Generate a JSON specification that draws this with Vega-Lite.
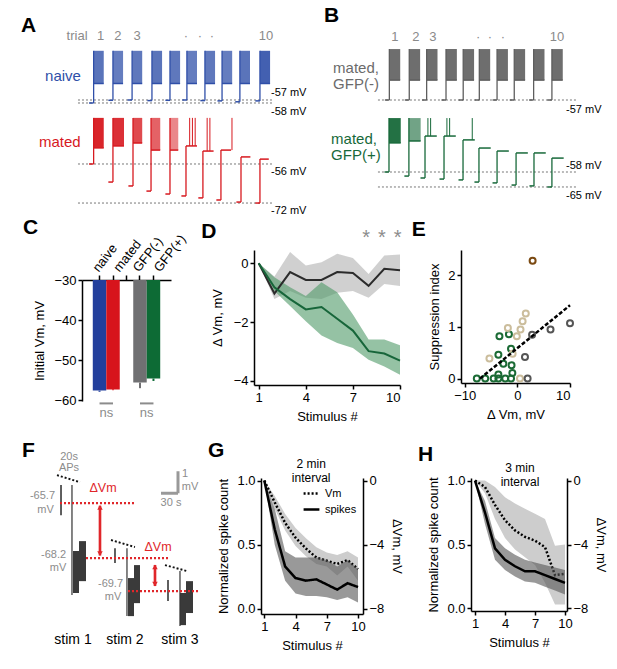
{
  "$schema": "https://vega.github.io/schema/vega-lite/v6.json",
  "padding": {"left": 20, "top": 5, "right": 4, "bottom": 4},
  "background": "white",
  "config": {
    "font": "Liberation Sans",
    "view": {"stroke": null},
    "axis": {"grid": false, "labelFontSize": 13, "titleFontSize": 13, "titleFontWeight": "normal", "labelColor": "#000", "titleColor": "#000", "domainColor": "#000", "tickColor": "#000", "domainWidth": 1.5, "tickWidth": 1.5, "tickSize": 4, "labelPadding": 2, "titlePadding": 6},
    "title": {"fontSize": 21, "fontWeight": "bold", "anchor": "start", "color": "#000", "offset": 2},
    "legend": {"labelFont": "Liberation Sans"}
  },
  "datasets": {
    "trials": [
      {"g": "naive", "trial": 1, "t0": 0.73, "t1": 0.98, "t2": 1.53, "base": -58, "plat": -51.5, "top": -40.6, "n": 26},
      {"g": "naive", "trial": 2, "t0": 1.78, "t1": 2.03, "t2": 2.58, "base": -57.1, "plat": -51.5, "top": -40.6, "n": 24},
      {"g": "naive", "trial": 3, "t0": 2.82, "t1": 3.07, "t2": 3.62, "base": -57, "plat": -51.5, "top": -40.6, "n": 25},
      {"g": "naive", "trial": 4, "t0": 3.9, "t1": 4.15, "t2": 4.7, "base": -57.2, "plat": -51.5, "top": -40.6, "n": 26},
      {"g": "naive", "trial": 5, "t0": 4.88, "t1": 5.13, "t2": 5.68, "base": -57.1, "plat": -51.5, "top": -40.6, "n": 25},
      {"g": "naive", "trial": 6, "t0": 5.8, "t1": 6.05, "t2": 6.6, "base": -57, "plat": -51.5, "top": -40.6, "n": 24},
      {"g": "naive", "trial": 7, "t0": 6.78, "t1": 7.03, "t2": 7.58, "base": -57.2, "plat": -51.5, "top": -40.6, "n": 25},
      {"g": "naive", "trial": 8, "t0": 7.71, "t1": 7.96, "t2": 8.51, "base": -57.3, "plat": -51.5, "top": -40.6, "n": 24},
      {"g": "naive", "trial": 9, "t0": 8.68, "t1": 8.93, "t2": 9.48, "base": -57.6, "plat": -51.5, "top": -40.6, "n": 26},
      {"g": "naive", "trial": 10, "t0": 9.77, "t1": 10.02, "t2": 10.57, "base": -57.3, "plat": -51.5, "top": -40.6, "n": 30},
      {"g": "mated", "trial": 1, "t0": 0.73, "t1": 0.98, "t2": 1.53, "base": -56, "plat": -49.4, "top": -37.1, "n": 30},
      {"g": "mated", "trial": 2, "t0": 1.78, "t1": 2.03, "t2": 2.63, "base": -63.4, "plat": -48.6, "top": -37.1, "n": 28},
      {"g": "mated", "trial": 3, "t0": 2.87, "t1": 3.12, "t2": 3.62, "base": -65, "plat": -47.4, "top": -37.1, "n": 24},
      {"g": "mated", "trial": 4, "t0": 3.85, "t1": 4.1, "t2": 4.6, "base": -67.1, "plat": -50.3, "top": -37.1, "n": 20},
      {"g": "mated", "trial": 5, "t0": 4.88, "t1": 5.13, "t2": 5.58, "base": -68.3, "plat": -50.3, "top": -37.1, "n": 14},
      {"g": "mated", "trial": 6, "t0": 5.75, "t1": 6.0, "t2": 6.6, "base": -69.1, "plat": -48.6, "top": -48.6, "n": 0},
      {"g": "mated", "trial": 7, "t0": 6.67, "t1": 6.92, "t2": 7.5, "base": -69.9, "plat": -50.7, "top": -50.7, "n": 0},
      {"g": "mated", "trial": 8, "t0": 7.65, "t1": 7.9, "t2": 8.45, "base": -70.75, "plat": -50.3, "top": -50.3, "n": 0},
      {"g": "mated", "trial": 9, "t0": 8.74, "t1": 8.99, "t2": 9.5, "base": -71.6, "plat": -53.1, "top": -53.1, "n": 0},
      {"g": "mated", "trial": 10, "t0": 9.77, "t1": 10.02, "t2": 10.5, "base": -72, "plat": -54, "top": -54, "n": 0},
      {"g": "gfpneg", "trial": 1, "t0": 0.77, "t1": 1.02, "t2": 1.62, "base": -57, "plat": -47.7, "top": -33.2, "n": 30},
      {"g": "gfpneg", "trial": 2, "t0": 1.87, "t1": 2.12, "t2": 2.72, "base": -57, "plat": -47.7, "top": -33.2, "n": 30},
      {"g": "gfpneg", "trial": 3, "t0": 2.83, "t1": 3.08, "t2": 3.68, "base": -57, "plat": -47.7, "top": -33.2, "n": 30},
      {"g": "gfpneg", "trial": 4, "t0": 3.9, "t1": 4.15, "t2": 4.75, "base": -57, "plat": -47.7, "top": -33.2, "n": 30},
      {"g": "gfpneg", "trial": 5, "t0": 4.85, "t1": 5.1, "t2": 5.7, "base": -57, "plat": -47.7, "top": -33.2, "n": 30},
      {"g": "gfpneg", "trial": 6, "t0": 5.74, "t1": 5.99, "t2": 6.59, "base": -57, "plat": -47.7, "top": -33.2, "n": 30},
      {"g": "gfpneg", "trial": 7, "t0": 6.72, "t1": 6.97, "t2": 7.57, "base": -57, "plat": -47.7, "top": -33.2, "n": 30},
      {"g": "gfpneg", "trial": 8, "t0": 7.67, "t1": 7.92, "t2": 8.52, "base": -57, "plat": -47.7, "top": -33.2, "n": 30},
      {"g": "gfpneg", "trial": 9, "t0": 8.74, "t1": 8.99, "t2": 9.59, "base": -57, "plat": -47.7, "top": -33.2, "n": 30},
      {"g": "gfpneg", "trial": 10, "t0": 9.75, "t1": 10.0, "t2": 10.6, "base": -57, "plat": -47.7, "top": -33.2, "n": 30},
      {"g": "gfppos", "trial": 1, "t0": 0.75, "t1": 1.0, "t2": 1.65, "base": -58, "plat": -44.4, "top": -32.8, "n": 30},
      {"g": "gfppos", "trial": 2, "t0": 1.85, "t1": 2.1, "t2": 2.75, "base": -59.9, "plat": -43.5, "top": -32.8, "n": 18},
      {"g": "gfppos", "trial": 3, "t0": 2.74, "t1": 2.99, "t2": 3.64, "base": -60.8, "plat": -41.2, "top": -41.2, "n": 0},
      {"g": "gfppos", "trial": 4, "t0": 3.79, "t1": 4.04, "t2": 4.69, "base": -61.3, "plat": -41.2, "top": -41.2, "n": 0},
      {"g": "gfppos", "trial": 5, "t0": 4.84, "t1": 5.09, "t2": 5.74, "base": -61.7, "plat": -43, "top": -43, "n": 0},
      {"g": "gfppos", "trial": 6, "t0": 5.72, "t1": 5.97, "t2": 6.62, "base": -62.7, "plat": -46.8, "top": -46.8, "n": 0},
      {"g": "gfppos", "trial": 7, "t0": 6.72, "t1": 6.97, "t2": 7.62, "base": -63.1, "plat": -48.2, "top": -48.2, "n": 0},
      {"g": "gfppos", "trial": 8, "t0": 7.77, "t1": 8.02, "t2": 8.67, "base": -64.1, "plat": -49.1, "top": -49.1, "n": 0},
      {"g": "gfppos", "trial": 9, "t0": 8.76, "t1": 9.01, "t2": 9.66, "base": -64.5, "plat": -49.1, "top": -49.1, "n": 0},
      {"g": "gfppos", "trial": 10, "t0": 9.75, "t1": 10.0, "t2": 10.65, "base": -65, "plat": -51.5, "top": -51.5, "n": 0}
    ],
    "spikes": [
      {"g": "mated", "t": 6.2, "lo": -48.6, "hi": -37.1},
      {"g": "mated", "t": 6.35, "lo": -48.6, "hi": -37.1},
      {"g": "mated", "t": 6.5, "lo": -48.6, "hi": -37.1},
      {"g": "mated", "t": 7.15, "lo": -50.7, "hi": -37.1},
      {"g": "mated", "t": 7.3, "lo": -50.7, "hi": -37.1},
      {"g": "mated", "t": 8.5, "lo": -50.3, "hi": -37.1},
      {"g": "gfppos", "t": 3.15, "lo": -41.2, "hi": -32.8},
      {"g": "gfppos", "t": 3.3, "lo": -41.2, "hi": -32.8},
      {"g": "gfppos", "t": 4.2, "lo": -41.2, "hi": -32.8},
      {"g": "gfppos", "t": 4.35, "lo": -41.2, "hi": -32.8},
      {"g": "gfppos", "t": 5.6, "lo": -43, "hi": -32.8}
    ],
    "levels": [
      {"g": "naive", "mv": -57, "from": 0.13, "to": 10.73},
      {"g": "naive", "mv": -58, "from": 0.13, "to": 10.73},
      {"g": "mated", "mv": -56, "from": 0.13, "to": 10.73},
      {"g": "mated", "mv": -72, "from": 0.13, "to": 10.73},
      {"g": "gfpneg", "mv": -57, "from": 0.39, "to": 11.33},
      {"g": "gfppos", "mv": -58, "from": 0.39, "to": 11.33},
      {"g": "gfppos", "mv": -65, "from": 0.39, "to": 11.33}
    ],
    "mvlabels": [
      {"g": "naive", "t": 10.62, "mv": -54.67, "lab": "-57 mV"},
      {"g": "naive", "t": 10.62, "mv": -61.0, "lab": "-58 mV"},
      {"g": "mated", "t": 10.62, "mv": -59.28, "lab": "-56 mV"},
      {"g": "mated", "t": 10.62, "mv": -75.26, "lab": "-72 mV"},
      {"g": "gfpneg", "t": 10.78, "mv": -61.67, "lab": "-57 mV"},
      {"g": "gfppos", "t": 10.78, "mv": -55.2, "lab": "-58 mV"},
      {"g": "gfppos", "t": 10.78, "mv": -69.2, "lab": "-65 mV"}
    ],
    "grouplabels": [
      {"g": "naive", "t": -1.66, "mv": -49, "lab": "naive"},
      {"g": "mated", "t": -1.99, "mv": -46.98, "lab": "mated"},
      {"g": "gfpneg", "t": -2.09, "mv": -42.05, "lab": "mated,"},
      {"g": "gfpneg", "t": -2.09, "mv": -49.52, "lab": "GFP(-)"},
      {"g": "gfppos", "t": -2.2, "mv": -42.58, "lab": "mated,"},
      {"g": "gfppos", "t": -2.2, "mv": -50.06, "lab": "GFP(+)"}
    ],
    "tnums": [
      {"p": "A", "t": 0.08, "mv": -35.67, "lab": "trial"},
      {"p": "A", "t": 1.36, "mv": -35.67, "lab": "1"},
      {"p": "A", "t": 2.3, "mv": -35.67, "lab": "2"},
      {"p": "A", "t": 3.34, "mv": -35.67, "lab": "3"},
      {"p": "A", "t": 6.0, "mv": -35.67, "lab": "·"},
      {"p": "A", "t": 6.76, "mv": -35.67, "lab": "·"},
      {"p": "A", "t": 7.41, "mv": -35.67, "lab": "·"},
      {"p": "A", "t": 10.35, "mv": -35.67, "lab": "10"},
      {"p": "B", "t": 1.33, "mv": -27.56, "lab": "1"},
      {"p": "B", "t": 2.49, "mv": -27.56, "lab": "2"},
      {"p": "B", "t": 3.43, "mv": -27.56, "lab": "3"},
      {"p": "B", "t": 5.92, "mv": -27.56, "lab": "·"},
      {"p": "B", "t": 6.58, "mv": -27.56, "lab": "·"},
      {"p": "B", "t": 7.3, "mv": -27.56, "lab": "·"},
      {"p": "B", "t": 10.28, "mv": -27.56, "lab": "10"}
    ],
    "cbars": [
      {"grp": "naive", "v": -57.6, "lo": -57.9},
      {"grp": "mated", "v": -57.3, "lo": -57.5},
      {"grp": "GFP(-)", "v": -55.6, "lo": -57.0},
      {"grp": "GFP(+)", "v": -54.6, "lo": -55.2}
    ],
    "cns": [
      {"a": "naive", "b": "mated", "y": -60.8, "ty": -63.2},
      {"a": "GFP(-)", "b": "GFP(+)", "y": -60.8, "ty": -63.2}
    ],
    "dline": [
      {"s": "GFP(-)", "stim": 1, "m": 0, "lo": 0, "hi": 0},
      {"s": "GFP(-)", "stim": 2, "m": -1.03, "lo": -1.22, "hi": -0.45},
      {"s": "GFP(-)", "stim": 3, "m": -0.3, "lo": -0.94, "hi": 0.38},
      {"s": "GFP(-)", "stim": 4, "m": -0.57, "lo": -1.17, "hi": -0.08},
      {"s": "GFP(-)", "stim": 5, "m": -0.57, "lo": -1.22, "hi": 0.03},
      {"s": "GFP(-)", "stim": 6, "m": -0.3, "lo": -1.0, "hi": 0.32},
      {"s": "GFP(-)", "stim": 7, "m": -0.33, "lo": -0.94, "hi": 0.18},
      {"s": "GFP(-)", "stim": 8, "m": -0.77, "lo": -1.17, "hi": -0.37},
      {"s": "GFP(-)", "stim": 9, "m": -0.19, "lo": -0.71, "hi": 0.26},
      {"s": "GFP(-)", "stim": 10, "m": -0.24, "lo": -0.77, "hi": 0.3},
      {"s": "GFP(+)", "stim": 1, "m": 0, "lo": 0, "hi": 0},
      {"s": "GFP(+)", "stim": 2, "m": -0.82, "lo": -0.94, "hi": -0.48},
      {"s": "GFP(+)", "stim": 3, "m": -1.22, "lo": -1.45, "hi": -0.82},
      {"s": "GFP(+)", "stim": 4, "m": -1.57, "lo": -1.97, "hi": -1.11},
      {"s": "GFP(+)", "stim": 5, "m": -1.49, "lo": -2.46, "hi": -0.65},
      {"s": "GFP(+)", "stim": 6, "m": -1.89, "lo": -2.71, "hi": -0.99},
      {"s": "GFP(+)", "stim": 7, "m": -2.29, "lo": -2.88, "hi": -1.74},
      {"s": "GFP(+)", "stim": 8, "m": -2.99, "lo": -3.28, "hi": -2.59},
      {"s": "GFP(+)", "stim": 9, "m": -3.07, "lo": -3.51, "hi": -2.59},
      {"s": "GFP(+)", "stim": 10, "m": -3.31, "lo": -3.79, "hi": -2.79}
    ],
    "dstars": [
      {"stim": 7.85, "y": 0.85},
      {"stim": 8.85, "y": 0.85},
      {"stim": 9.85, "y": 0.85}
    ],
    "epts": [
      {"grp": "GFP(+)", "dvm": -3.4, "si": 0.82},
      {"grp": "GFP(+)", "dvm": -1.6, "si": 0.86},
      {"grp": "GFP(+)", "dvm": -3.6, "si": 0.46},
      {"grp": "GFP(+)", "dvm": -1.2, "si": 0.58},
      {"grp": "GFP(+)", "dvm": -2.65, "si": 0.29},
      {"grp": "GFP(+)", "dvm": -1.1, "si": 0.26},
      {"grp": "GFP(+)", "dvm": -0.95, "si": 0.11},
      {"grp": "GFP(+)", "dvm": -3.6, "si": 0.08},
      {"grp": "GFP(+)", "dvm": -7.7, "si": 0},
      {"grp": "GFP(+)", "dvm": -6.1, "si": 0},
      {"grp": "GFP(+)", "dvm": -4.5, "si": 0},
      {"grp": "GFP(+)", "dvm": -3.6, "si": 0},
      {"grp": "GFP(+)", "dvm": -2.3, "si": 0},
      {"grp": "GFP(+)", "dvm": -1.2, "si": 0},
      {"grp": "other", "dvm": 1.6, "si": 1.26},
      {"grp": "other", "dvm": 1.0, "si": 1.11},
      {"grp": "other", "dvm": 0.6, "si": 0.95},
      {"grp": "other", "dvm": -0.1, "si": 0.82},
      {"grp": "other", "dvm": -1.8, "si": 0.98},
      {"grp": "other", "dvm": -5.3, "si": 0.39},
      {"grp": "other", "dvm": -0.9, "si": 0.48},
      {"grp": "other", "dvm": 0.5, "si": 0},
      {"grp": "GFP(-)", "dvm": 2.8, "si": 0.85},
      {"grp": "GFP(-)", "dvm": 6.3, "si": 0.95},
      {"grp": "GFP(-)", "dvm": 10.0, "si": 1.07},
      {"grp": "GFP(-)", "dvm": 1.45, "si": 0.42},
      {"grp": "GFP(-)", "dvm": 1.95, "si": 0},
      {"grp": "outlier", "dvm": 2.9, "si": 2.28}
    ],
    "efit": [
      {"dvm": -7.1, "si": 0},
      {"dvm": 10, "si": 1.42}
    ],
    "fblocks": [
      {"stim": 1, "t": 88, "t2": 98.6, "v": -67.88, "v2": -69.79},
      {"stim": 1, "t": 98.6, "t2": 110.9, "v": -67.43, "v2": -69.25},
      {"stim": 2, "t": 184.8, "t2": 195.4, "v": -69.11, "v2": -70.84},
      {"stim": 2, "t": 195.4, "t2": 205.9, "v": -68.52, "v2": -70.25},
      {"stim": 3, "t": 276.3, "t2": 286.9, "v": -69.79, "v2": -71.25},
      {"stim": 3, "t": 286.9, "t2": 299.2, "v": -69.25, "v2": -70.7}
    ],
    "fsegs": [
      {"kind": "trace", "t": 86.2, "t2": 86.2, "v": -64.88, "v2": -69.88},
      {"kind": "trace", "t": 183, "t2": 183, "v": -67.75, "v2": -70.84},
      {"kind": "trace", "t": 276.3, "t2": 276.3, "v": -68.79, "v2": -71.29},
      {"kind": "aps", "t": 66.9, "t2": 66.9, "v": -64.88, "v2": -66.25},
      {"kind": "aps", "t": 161.9, "t2": 161.9, "v": -67.75, "v2": -68.43},
      {"kind": "aps", "t": 255.2, "t2": 255.2, "v": -69.2, "v2": -70.15},
      {"kind": "slope", "t": 59.8, "t2": 100.3, "v": -64.43, "v2": -64.75},
      {"kind": "slope", "t": 154.9, "t2": 197, "v": -67.38, "v2": -67.7},
      {"kind": "slope", "t": 249.9, "t2": 288.6, "v": -68.52, "v2": -68.79},
      {"kind": "ref", "t": 65.1, "t2": 197, "v": -65.7, "v2": -65.7},
      {"kind": "ref", "t": 110.9, "t2": 258.7, "v": -68.2, "v2": -68.2},
      {"kind": "ref", "t": 184.8, "t2": 311.5, "v": -69.7, "v2": -69.7},
      {"kind": "arrow", "t": 135.5, "t2": 135.5, "v": -65.82, "v2": -68.08},
      {"kind": "arrow", "t": 232.3, "t2": 232.3, "v": -68.52, "v2": -69.47},
      {"kind": "scale", "t": 272.8, "t2": 272.8, "v": -64.25, "v2": -65.25},
      {"kind": "scale", "t": 242.9, "t2": 272.8, "v": -65.25, "v2": -65.25}
    ],
    "fheads": [
      {"t": 135.5, "v": -65.9, "dir": "up"},
      {"t": 135.5, "v": -68.0, "dir": "down"},
      {"t": 232.3, "v": -68.6, "dir": "up"},
      {"t": 232.3, "v": -69.39, "dir": "down"}
    ],
    "ftext": [
      {"kind": "gray", "t": 81, "v": -63.6, "lab": "20s"},
      {"kind": "gray", "t": 81, "v": -64.12, "lab": "APs"},
      {"kind": "gray", "t": 34.3, "v": -65.4, "lab": "-65.7"},
      {"kind": "gray", "t": 39.6, "v": -66.0, "lab": "mV"},
      {"kind": "gray", "t": 53.7, "v": -68.05, "lab": "-68.2"},
      {"kind": "gray", "t": 61.6, "v": -68.65, "lab": "mV"},
      {"kind": "gray", "t": 154, "v": -69.38, "lab": "-69.7"},
      {"kind": "gray", "t": 158.4, "v": -69.98, "lab": "mV"},
      {"kind": "gray", "t": 285.1, "v": -64.4, "lab": "1"},
      {"kind": "gray", "t": 293.9, "v": -64.95, "lab": "mV"},
      {"kind": "gray", "t": 260.5, "v": -65.7, "lab": "30 s"},
      {"kind": "red", "t": 140.8, "v": -65.02, "lab": "ΔVm"},
      {"kind": "red", "t": 237.6, "v": -67.7, "lab": "ΔVm"},
      {"kind": "black", "t": 88, "v": -71.93, "lab": "stim 1"},
      {"kind": "black", "t": 179.5, "v": -71.93, "lab": "stim 2"},
      {"kind": "black", "t": 276.3, "v": -71.93, "lab": "stim 3"}
    ],
    "gh": [
      {"iv": "2 min", "stim": 1, "spk": 1.0, "spk_lo": 1.0, "spk_hi": 1.0, "vm": 0, "vm_lo": 0, "vm_hi": 0},
      {"iv": "2 min", "stim": 2, "spk": 0.62, "spk_lo": 0.5, "spk_hi": 0.78, "vm": -1.36, "vm_lo": -1.76, "vm_hi": -0.96},
      {"iv": "2 min", "stim": 3, "spk": 0.33, "spk_lo": 0.22, "spk_hi": 0.45, "vm": -2.64, "vm_lo": -3.12, "vm_hi": -2.08},
      {"iv": "2 min", "stim": 4, "spk": 0.24, "spk_lo": 0.12, "spk_hi": 0.4, "vm": -3.56, "vm_lo": -4.08, "vm_hi": -2.96},
      {"iv": "2 min", "stim": 5, "spk": 0.22, "spk_lo": 0.1, "spk_hi": 0.4, "vm": -4.24, "vm_lo": -4.72, "vm_hi": -3.6},
      {"iv": "2 min", "stim": 6, "spk": 0.23, "spk_lo": 0.1, "spk_hi": 0.4, "vm": -4.8, "vm_lo": -5.2, "vm_hi": -4.16},
      {"iv": "2 min", "stim": 7, "spk": 0.19, "spk_lo": 0.09, "spk_hi": 0.38, "vm": -5.0, "vm_lo": -5.36, "vm_hi": -4.48},
      {"iv": "2 min", "stim": 8, "spk": 0.15, "spk_lo": 0.07, "spk_hi": 0.33, "vm": -5.2, "vm_lo": -5.92, "vm_hi": -4.64},
      {"iv": "2 min", "stim": 9, "spk": 0.2, "spk_lo": 0.09, "spk_hi": 0.38, "vm": -4.96, "vm_lo": -5.36, "vm_hi": -4.4},
      {"iv": "2 min", "stim": 10, "spk": 0.17, "spk_lo": 0.05, "spk_hi": 0.31, "vm": -5.52, "vm_lo": -6.24, "vm_hi": -4.8},
      {"iv": "3 min", "stim": 1, "spk": 1.0, "spk_lo": 1.0, "spk_hi": 1.0, "vm": 0, "vm_lo": 0, "vm_hi": 0},
      {"iv": "3 min", "stim": 2, "spk": 0.75, "spk_lo": 0.66, "spk_hi": 0.84, "vm": -0.4, "vm_lo": -0.8, "vm_hi": 0},
      {"iv": "3 min", "stim": 3, "spk": 0.47, "spk_lo": 0.38, "spk_hi": 0.55, "vm": -1.52, "vm_lo": -2.4, "vm_hi": -0.4},
      {"iv": "3 min", "stim": 4, "spk": 0.38, "spk_lo": 0.3, "spk_hi": 0.47, "vm": -2.48, "vm_lo": -3.6, "vm_hi": -1.04},
      {"iv": "3 min", "stim": 5, "spk": 0.33, "spk_lo": 0.25, "spk_hi": 0.42, "vm": -3.12, "vm_lo": -4.32, "vm_hi": -1.44},
      {"iv": "3 min", "stim": 6, "spk": 0.29, "spk_lo": 0.21, "spk_hi": 0.38, "vm": -3.52, "vm_lo": -4.8, "vm_hi": -1.76},
      {"iv": "3 min", "stim": 7, "spk": 0.29, "spk_lo": 0.2, "spk_hi": 0.36, "vm": -3.76, "vm_lo": -5.28, "vm_hi": -2.08},
      {"iv": "3 min", "stim": 8, "spk": 0.26, "spk_lo": 0.17, "spk_hi": 0.34, "vm": -4.16, "vm_lo": -6.4, "vm_hi": -2.4},
      {"iv": "3 min", "stim": 9, "spk": 0.23, "spk_lo": 0.14, "spk_hi": 0.32, "vm": -5.92, "vm_lo": -7.76, "vm_hi": -4.08},
      {"iv": "3 min", "stim": 10, "spk": 0.2, "spk_lo": 0.11, "spk_hi": 0.3, "vm": -5.84, "vm_lo": -7.76, "vm_hi": -4.0}
    ],
    "ghtext": [
      {"iv": "2 min", "stim": 5.5, "y": 1.13, "lab": "2 min\ninterval"},
      {"iv": "3 min", "stim": 5.5, "y": 1.1, "lab": "3 min\ninterval"}
    ]
  },
  "resolve": {"scale": {"color": "independent", "fill": "independent", "stroke": "independent", "opacity": "independent", "strokeDash": "independent", "size": "independent", "shape": "independent"}},
  "columns": 1,
  "align": "none",
  "spacing": 16,
  "concat": [
    {
      "columns": 1,
      "align": "none",
      "spacing": 0,
      "resolve": {"scale": {"color": "independent", "fill": "independent", "stroke": "independent", "opacity": "independent", "strokeDash": "independent", "size": "independent", "shape": "independent"}},
      "concat": [
        {
          "columns": 2,
          "align": "none",
          "spacing": 17,
          "resolve": {"scale": {"color": "independent", "opacity": "independent"}},
          "concat": [
            {
              "title": {"text": "A", "dx": -18, "dy": 10},
              "columns": 1,
              "align": "none",
              "spacing": 0,
              "resolve": {"scale": {"opacity": "independent"}},
              "concat": [
                {
                  "width": 221, "height": 89,
                  "layer": [
                    {"data": {"name": "levels"}, "transform": [{"filter": "datum.g == 'naive'"}],
                     "mark": {"type": "rule", "strokeDash": [2, 2], "color": "#777777", "strokeWidth": 1},
                     "encoding": {"x": {"field": "from", "type": "quantitative", "scale": {"domain": [0.348, 12.36], "nice": false}, "axis": null}, "x2": {"field": "to"},
                                  "y": {"field": "mv", "type": "quantitative", "scale": {"domain": [-62.67, -33], "nice": false}, "axis": null}}},
                    {"data": {"name": "trials"}, "transform": [{"filter": "datum.g == 'naive'"}],
                     "mark": {"type": "rect", "color": "#2f4fa8"},
                     "encoding": {"x": {"field": "t1", "type": "quantitative", "axis": null}, "x2": {"field": "t2"},
                                  "y": {"field": "plat", "type": "quantitative", "axis": null}, "y2": {"field": "top"},
                                  "opacity": {"field": "n", "type": "quantitative", "scale": {"domain": [0, 30], "range": [0.1, 0.9]}, "legend": null}}},
                    {"data": {"name": "trials"}, "transform": [{"filter": "datum.g == 'naive'"}],
                     "mark": {"type": "rule", "color": "#2f4fa8", "strokeWidth": 1.5},
                     "encoding": {"x": {"field": "t0", "type": "quantitative", "axis": null}, "x2": {"field": "t1"}, "y": {"field": "base", "type": "quantitative", "axis": null}}},
                    {"data": {"name": "trials"}, "transform": [{"filter": "datum.g == 'naive'"}],
                     "mark": {"type": "rule", "color": "#2f4fa8", "strokeWidth": 1.3},
                     "encoding": {"x": {"field": "t1", "type": "quantitative", "axis": null}, "y": {"field": "base", "type": "quantitative", "axis": null}, "y2": {"field": "top"}}},
                    {"data": {"name": "trials"}, "transform": [{"filter": "datum.g == 'naive'"}],
                     "mark": {"type": "rule", "color": "#2f4fa8", "strokeWidth": 1.5},
                     "encoding": {"x": {"field": "t1", "type": "quantitative", "axis": null}, "x2": {"field": "t2"}, "y": {"field": "plat", "type": "quantitative", "axis": null}}},
                    {"data": {"name": "mvlabels"}, "transform": [{"filter": "datum.g == 'naive'"}],
                     "mark": {"type": "text", "align": "left", "fontSize": 11, "color": "#000"},
                     "encoding": {"x": {"field": "t", "type": "quantitative", "axis": null}, "y": {"field": "mv", "type": "quantitative", "axis": null}, "text": {"field": "lab"}}},
                    {"data": {"name": "grouplabels"}, "transform": [{"filter": "datum.g == 'naive'"}],
                     "mark": {"type": "text", "align": "left", "fontSize": 15, "color": "#2f4fa8"},
                     "encoding": {"x": {"field": "t", "type": "quantitative", "axis": null}, "y": {"field": "mv", "type": "quantitative", "axis": null}, "text": {"field": "lab"}}},
                    {"data": {"name": "tnums"}, "transform": [{"filter": "datum.p == 'A'"}],
                     "mark": {"type": "text", "fontSize": 13, "color": "#8a8a8a"},
                     "encoding": {"x": {"field": "t", "type": "quantitative", "axis": null}, "y": {"field": "mv", "type": "quantitative", "axis": null}, "text": {"field": "lab"}}}
                  ]
                },
                {
                  "width": 221, "height": 96,
                  "layer": [
                    {"data": {"name": "levels"}, "transform": [{"filter": "datum.g == 'mated'"}],
                     "mark": {"type": "rule", "strokeDash": [2, 2], "color": "#777777", "strokeWidth": 1},
                     "encoding": {"x": {"field": "from", "type": "quantitative", "scale": {"domain": [0.348, 12.36], "nice": false}, "axis": null}, "x2": {"field": "to"},
                                  "y": {"field": "mv", "type": "quantitative", "scale": {"domain": [-77.31, -37.97], "nice": false}, "axis": null}}},
                    {"data": {"name": "trials"}, "transform": [{"filter": "datum.g == 'mated'"}],
                     "mark": {"type": "rect", "color": "#d7191f"},
                     "encoding": {"x": {"field": "t1", "type": "quantitative", "axis": null}, "x2": {"field": "t2"},
                                  "y": {"field": "plat", "type": "quantitative", "axis": null}, "y2": {"field": "top"},
                                  "opacity": {"field": "n", "type": "quantitative", "scale": {"domain": [0, 30], "range": [0.15, 0.95]}, "legend": null}}},
                    {"data": {"name": "trials"}, "transform": [{"filter": "datum.g == 'mated'"}],
                     "mark": {"type": "rule", "color": "#d7191f", "strokeWidth": 1.5},
                     "encoding": {"x": {"field": "t0", "type": "quantitative", "axis": null}, "x2": {"field": "t1"}, "y": {"field": "base", "type": "quantitative", "axis": null}}},
                    {"data": {"name": "trials"}, "transform": [{"filter": "datum.g == 'mated'"}],
                     "mark": {"type": "rule", "color": "#d7191f", "strokeWidth": 1.3},
                     "encoding": {"x": {"field": "t1", "type": "quantitative", "axis": null}, "y": {"field": "base", "type": "quantitative", "axis": null}, "y2": {"field": "top"}}},
                    {"data": {"name": "trials"}, "transform": [{"filter": "datum.g == 'mated'"}],
                     "mark": {"type": "rule", "color": "#d7191f", "strokeWidth": 1.5},
                     "encoding": {"x": {"field": "t1", "type": "quantitative", "axis": null}, "x2": {"field": "t2"}, "y": {"field": "plat", "type": "quantitative", "axis": null}}},
                    {"data": {"name": "spikes"}, "transform": [{"filter": "datum.g == 'mated'"}],
                     "mark": {"type": "rule", "color": "#d7191f", "strokeWidth": 1},
                     "encoding": {"x": {"field": "t", "type": "quantitative", "axis": null}, "y": {"field": "lo", "type": "quantitative", "axis": null}, "y2": {"field": "hi"}}},
                    {"data": {"name": "mvlabels"}, "transform": [{"filter": "datum.g == 'mated'"}],
                     "mark": {"type": "text", "align": "left", "fontSize": 11, "color": "#000"},
                     "encoding": {"x": {"field": "t", "type": "quantitative", "axis": null}, "y": {"field": "mv", "type": "quantitative", "axis": null}, "text": {"field": "lab"}}},
                    {"data": {"name": "grouplabels"}, "transform": [{"filter": "datum.g == 'mated'"}],
                     "mark": {"type": "text", "align": "left", "fontSize": 15, "color": "#d7191f"},
                     "encoding": {"x": {"field": "t", "type": "quantitative", "axis": null}, "y": {"field": "mv", "type": "quantitative", "axis": null}, "text": {"field": "lab"}}}
                  ]
                }
              ]
            },
            {
              "title": {"text": "B"},
              "columns": 1,
              "align": "none",
              "spacing": 0,
              "resolve": {"scale": {"opacity": "independent"}},
              "concat": [
                {
                  "width": 290, "height": 89,
                  "layer": [
                    {"data": {"name": "levels"}, "transform": [{"filter": "datum.g == 'gfpneg'"}],
                     "mark": {"type": "rule", "strokeDash": [2, 2], "color": "#777777", "strokeWidth": 1},
                     "encoding": {"x": {"field": "from", "type": "quantitative", "scale": {"domain": [-2.59, 13.43], "nice": false}, "axis": null}, "x2": {"field": "to"},
                                  "y": {"field": "mv", "type": "quantitative", "scale": {"domain": [-64.94, -23.36], "nice": false}, "axis": null}}},
                    {"data": {"name": "trials"}, "transform": [{"filter": "datum.g == 'gfpneg'"}],
                     "mark": {"type": "rect", "color": "#5e5e5e"},
                     "encoding": {"x": {"field": "t1", "type": "quantitative", "axis": null}, "x2": {"field": "t2"},
                                  "y": {"field": "plat", "type": "quantitative", "axis": null}, "y2": {"field": "top"},
                                  "opacity": {"field": "n", "type": "quantitative", "scale": {"domain": [0, 30], "range": [0.1, 0.9]}, "legend": null}}},
                    {"data": {"name": "trials"}, "transform": [{"filter": "datum.g == 'gfpneg'"}],
                     "mark": {"type": "rule", "color": "#5e5e5e", "strokeWidth": 1.5},
                     "encoding": {"x": {"field": "t0", "type": "quantitative", "axis": null}, "x2": {"field": "t1"}, "y": {"field": "base", "type": "quantitative", "axis": null}}},
                    {"data": {"name": "trials"}, "transform": [{"filter": "datum.g == 'gfpneg'"}],
                     "mark": {"type": "rule", "color": "#5e5e5e", "strokeWidth": 1.3},
                     "encoding": {"x": {"field": "t1", "type": "quantitative", "axis": null}, "y": {"field": "base", "type": "quantitative", "axis": null}, "y2": {"field": "top"}}},
                    {"data": {"name": "trials"}, "transform": [{"filter": "datum.g == 'gfpneg'"}],
                     "mark": {"type": "rule", "color": "#5e5e5e", "strokeWidth": 1.5},
                     "encoding": {"x": {"field": "t1", "type": "quantitative", "axis": null}, "x2": {"field": "t2"}, "y": {"field": "plat", "type": "quantitative", "axis": null}}},
                    {"data": {"name": "mvlabels"}, "transform": [{"filter": "datum.g == 'gfpneg'"}],
                     "mark": {"type": "text", "align": "left", "fontSize": 11, "color": "#000"},
                     "encoding": {"x": {"field": "t", "type": "quantitative", "axis": null}, "y": {"field": "mv", "type": "quantitative", "axis": null}, "text": {"field": "lab"}}},
                    {"data": {"name": "grouplabels"}, "transform": [{"filter": "datum.g == 'gfpneg'"}],
                     "mark": {"type": "text", "align": "left", "fontSize": 15, "color": "#6b6b6b"},
                     "encoding": {"x": {"field": "t", "type": "quantitative", "axis": null}, "y": {"field": "mv", "type": "quantitative", "axis": null}, "text": {"field": "lab"}}},
                    {"data": {"name": "tnums"}, "transform": [{"filter": "datum.p == 'B'"}],
                     "mark": {"type": "text", "fontSize": 13, "color": "#8a8a8a"},
                     "encoding": {"x": {"field": "t", "type": "quantitative", "axis": null}, "y": {"field": "mv", "type": "quantitative", "axis": null}, "text": {"field": "lab"}}}
                  ]
                },
                {
                  "width": 290, "height": 96,
                  "layer": [
                    {"data": {"name": "levels"}, "transform": [{"filter": "datum.g == 'gfppos'"}],
                     "mark": {"type": "rule", "strokeDash": [2, 2], "color": "#777777", "strokeWidth": 1},
                     "encoding": {"x": {"field": "from", "type": "quantitative", "scale": {"domain": [-2.59, 13.43], "nice": false}, "axis": null}, "x2": {"field": "to"},
                                  "y": {"field": "mv", "type": "quantitative", "scale": {"domain": [-78.56, -33.7], "nice": false}, "axis": null}}},
                    {"data": {"name": "trials"}, "transform": [{"filter": "datum.g == 'gfppos'"}],
                     "mark": {"type": "rect", "color": "#17693a"},
                     "encoding": {"x": {"field": "t1", "type": "quantitative", "axis": null}, "x2": {"field": "t2"},
                                  "y": {"field": "plat", "type": "quantitative", "axis": null}, "y2": {"field": "top"},
                                  "opacity": {"field": "n", "type": "quantitative", "scale": {"domain": [0, 30], "range": [0.1, 0.95]}, "legend": null}}},
                    {"data": {"name": "trials"}, "transform": [{"filter": "datum.g == 'gfppos'"}],
                     "mark": {"type": "rule", "color": "#17693a", "strokeWidth": 1.5},
                     "encoding": {"x": {"field": "t0", "type": "quantitative", "axis": null}, "x2": {"field": "t1"}, "y": {"field": "base", "type": "quantitative", "axis": null}}},
                    {"data": {"name": "trials"}, "transform": [{"filter": "datum.g == 'gfppos'"}],
                     "mark": {"type": "rule", "color": "#17693a", "strokeWidth": 1.3},
                     "encoding": {"x": {"field": "t1", "type": "quantitative", "axis": null}, "y": {"field": "base", "type": "quantitative", "axis": null}, "y2": {"field": "top"}}},
                    {"data": {"name": "trials"}, "transform": [{"filter": "datum.g == 'gfppos'"}],
                     "mark": {"type": "rule", "color": "#17693a", "strokeWidth": 1.5},
                     "encoding": {"x": {"field": "t1", "type": "quantitative", "axis": null}, "x2": {"field": "t2"}, "y": {"field": "plat", "type": "quantitative", "axis": null}}},
                    {"data": {"name": "spikes"}, "transform": [{"filter": "datum.g == 'gfppos'"}],
                     "mark": {"type": "rule", "color": "#17693a", "strokeWidth": 1},
                     "encoding": {"x": {"field": "t", "type": "quantitative", "axis": null}, "y": {"field": "lo", "type": "quantitative", "axis": null}, "y2": {"field": "hi"}}},
                    {"data": {"name": "mvlabels"}, "transform": [{"filter": "datum.g == 'gfppos'"}],
                     "mark": {"type": "text", "align": "left", "fontSize": 11, "color": "#000"},
                     "encoding": {"x": {"field": "t", "type": "quantitative", "axis": null}, "y": {"field": "mv", "type": "quantitative", "axis": null}, "text": {"field": "lab"}}},
                    {"data": {"name": "grouplabels"}, "transform": [{"filter": "datum.g == 'gfppos'"}],
                     "mark": {"type": "text", "align": "left", "fontSize": 15, "color": "#17693a"},
                     "encoding": {"x": {"field": "t", "type": "quantitative", "axis": null}, "y": {"field": "mv", "type": "quantitative", "axis": null}, "text": {"field": "lab"}}}
                  ]
                }
              ]
            }
          ]
        },
        {
          "columns": 2,
          "align": "none",
          "spacing": 12,
          "resolve": {"scale": {"color": "independent", "fill": "independent", "stroke": "independent"}},
          "concat": [
            {
              "title": {"text": "C", "dx": -11, "offset": -5},
              "width": 89, "height": 151,
              "layer": [
                {"data": {"name": "cbars"},
                 "mark": {"type": "bar"},
                 "encoding": {
                   "x": {"field": "grp", "type": "nominal", "scale": {"domain": ["naive", "mated", "gap", "GFP(-)", "GFP(+)"], "paddingInner": 0, "paddingOuter": 0.8},
                         "axis": {"orient": "top", "offset": -30, "title": null, "labels": false, "tickSize": 5}},
                   "y": {"field": "v", "type": "quantitative", "scale": {"domain": [-60.2, -30], "range": [151, 30], "nice": false}, "axis": {"values": [-30, -40, -50, -60], "title": "Initial Vm, mV", "titlePadding": 7}},
                   "y2": {"datum": -30},
                   "color": {"field": "grp", "type": "nominal", "scale": {"domain": ["naive", "mated", "GFP(-)", "GFP(+)"], "range": ["#233f9c", "#d7141c", "#707072", "#0d6b35"]}, "legend": null}}},
                {"data": {"name": "cbars"},
                 "mark": {"type": "rule", "strokeWidth": 2},
                 "encoding": {
                   "x": {"field": "grp", "type": "nominal"},
                   "y": {"field": "lo", "type": "quantitative"}, "y2": {"field": "v"},
                   "color": {"field": "grp", "type": "nominal", "legend": null}}},
                {"data": {"name": "cbars"}, "transform": [{"filter": "datum.grp == 'naive' || datum.grp == 'GFP(-)'"}],
                 "mark": {"type": "text", "angle": -52, "align": "left", "baseline": "middle", "fontSize": 13, "color": "#000"},
                 "encoding": {"x": {"field": "grp", "type": "nominal", "bandPosition": 0.2}, "y": {"datum": -27.6}, "text": {"field": "grp"}}},
                {"data": {"name": "cbars"}, "transform": [{"filter": "datum.grp == 'mated' || datum.grp == 'GFP(+)'"}],
                 "mark": {"type": "text", "angle": -52, "align": "left", "baseline": "middle", "fontSize": 13, "color": "#000"},
                 "encoding": {"x": {"field": "grp", "type": "nominal", "bandPosition": 0.75}, "y": {"datum": -27.6}, "text": {"field": "grp"}}},
                {"data": {"name": "cns"},
                 "mark": {"type": "rule", "strokeWidth": 2, "color": "#8c8c8c"},
                 "encoding": {"x": {"field": "a", "type": "nominal"}, "x2": {"field": "b"}, "y": {"field": "y", "type": "quantitative"}}},
                {"data": {"name": "cns"},
                 "mark": {"type": "text", "fontSize": 13, "color": "#8c8c8c"},
                 "encoding": {"x": {"field": "b", "type": "nominal", "bandPosition": 0}, "y": {"field": "ty", "type": "quantitative"}, "text": {"value": "ns"}}}
              ]
            },
            {
              "columns": 2,
              "align": "none",
              "spacing": 7,
              "resolve": {"scale": {"color": "independent", "fill": "independent", "stroke": "independent"}},
              "concat": [
                {
                  "title": {"text": "D", "dx": -10, "offset": -14},
                  "width": 146, "height": 135,
                  "layer": [
                    {"data": {"name": "dline"},
                     "mark": {"type": "area", "opacity": 0.6},
                     "encoding": {
                       "x": {"field": "stim", "type": "quantitative", "scale": {"domain": [0.7, 10], "nice": false}, "axis": {"values": [1, 4, 7, 10], "title": "Stimulus #"}},
                       "y": {"field": "lo", "type": "quantitative", "scale": {"domain": [-4.14, 0.45], "nice": false}, "axis": {"values": [0, -2, -4], "title": "Δ Vm, mV", "titlePadding": 9}},
                       "y2": {"field": "hi"},
                       "fill": {"field": "s", "type": "nominal", "scale": {"domain": ["GFP(-)", "GFP(+)"], "range": ["#b0b0b0", "#4f9a68"]}, "legend": null}}},
                    {"data": {"name": "dline"},
                     "mark": {"type": "line", "strokeWidth": 2},
                     "encoding": {
                       "x": {"field": "stim", "type": "quantitative"},
                       "y": {"field": "m", "type": "quantitative"},
                       "stroke": {"field": "s", "type": "nominal", "scale": {"domain": ["GFP(-)", "GFP(+)"], "range": ["#2b2b2b", "#17663a"]}, "legend": null}}},
                    {"data": {"name": "dstars"},
                     "mark": {"type": "text", "fontSize": 20, "color": "#8c8c8c"},
                     "encoding": {"x": {"field": "stim", "type": "quantitative"}, "y": {"field": "y", "type": "quantitative"}, "text": {"value": "*"}}}
                  ]
                },
                {
                  "title": {"text": "E", "dx": -17, "offset": 10},
                  "width": 109, "height": 133,
                  "layer": [
                    {"data": {"name": "epts"},
                     "mark": {"type": "point", "shape": "circle", "filled": false, "strokeWidth": 2, "size": 36, "opacity": 1},
                     "encoding": {
                       "x": {"field": "dvm", "type": "quantitative", "scale": {"domain": [-10.7, 10], "nice": false}, "axis": {"values": [-10, -5, 0, 5, 10], "title": "Δ Vm, mV"}},
                       "y": {"field": "si", "type": "quantitative", "scale": {"domain": [-0.085, 2.49], "nice": false}, "axis": {"values": [0, 1, 2], "format": "d", "title": "Suppression index"}},
                       "color": {"field": "grp", "type": "nominal", "scale": {"domain": ["GFP(+)", "other", "GFP(-)", "outlier"], "range": ["#1b6b35", "#cbbd9c", "#555555", "#7b4a12"]}, "legend": null}}},
                    {"data": {"name": "efit"},
                     "mark": {"type": "line", "strokeDash": [4, 2], "strokeWidth": 2.5, "color": "#000"},
                     "encoding": {"x": {"field": "dvm", "type": "quantitative"}, "y": {"field": "si", "type": "quantitative"}}}
                  ]
                }
              ]
            }
          ]
        }
      ]
    },
    {
      "columns": 2,
      "align": "none",
      "spacing": 4,
      "resolve": {"scale": {"color": "independent", "fill": "independent", "stroke": "independent", "strokeDash": "independent", "size": "independent", "shape": "independent"}},
      "concat": [
        {
          "title": {"text": "F", "dx": -8, "offset": -10},
          "width": 121, "height": 170,
          "resolve": {"scale": {"color": "independent", "size": "independent"}},
          "layer": [
            {"data": {"name": "fblocks"},
             "mark": {"type": "rect", "color": "#3a3a3a"},
             "encoding": {"x": {"field": "t", "type": "quantitative", "scale": {"domain": [103.84, 316.8], "nice": false}, "axis": null}, "x2": {"field": "t2"},
                          "y": {"field": "v", "type": "quantitative", "scale": {"domain": [-72.29, -64.56], "nice": false}, "axis": null}, "y2": {"field": "v2"}}},
            {"data": {"name": "fsegs"},
             "mark": {"type": "rule"},
             "encoding": {"x": {"field": "t", "type": "quantitative", "axis": null}, "x2": {"field": "t2"},
                          "y": {"field": "v", "type": "quantitative", "axis": null}, "y2": {"field": "v2"},
                          "color": {"field": "kind", "type": "nominal", "scale": {"domain": ["trace", "aps", "slope", "ref", "arrow", "scale"], "range": ["#333333", "#333333", "#111111", "#e0262a", "#e0262a", "#999999"]}, "legend": null},
                          "strokeDash": {"field": "kind", "type": "nominal", "scale": {"domain": ["trace", "aps", "slope", "ref", "arrow", "scale"], "range": [[1, 0], [1, 0], [2, 2], [2, 2], [1, 0], [1, 0]]}, "legend": null},
                          "size": {"field": "kind", "type": "nominal", "scale": {"domain": ["trace", "aps", "slope", "ref", "arrow", "scale"], "range": [1.2, 3, 1.2, 1.2, 1.5, 1.2]}, "legend": null}}},
            {"data": {"name": "fheads"},
             "mark": {"type": "point", "filled": true, "color": "#e0262a", "size": 30, "opacity": 1},
             "encoding": {"x": {"field": "t", "type": "quantitative", "axis": null}, "y": {"field": "v", "type": "quantitative", "axis": null},
                          "shape": {"field": "dir", "type": "nominal", "scale": {"domain": ["up", "down"], "range": ["triangle-up", "triangle-down"]}, "legend": null}}},
            {"data": {"name": "ftext"},
             "mark": {"type": "text"},
             "encoding": {"x": {"field": "t", "type": "quantitative", "axis": null}, "y": {"field": "v", "type": "quantitative", "axis": null}, "text": {"field": "lab"},
                          "color": {"field": "kind", "type": "nominal", "scale": {"domain": ["gray", "red", "black"], "range": ["#8c8c8c", "#e0262a", "#000000"]}, "legend": null},
                          "size": {"field": "kind", "type": "nominal", "scale": {"domain": ["gray", "red", "black"], "range": [11, 14, 12]}, "legend": null}}}
          ]
        },
        {
          "columns": 2,
          "align": "none",
          "spacing": 14,
          "resolve": {"scale": {"strokeDash": "independent"}},
          "concat": [
            {
              "title": {"text": "G", "dx": -10, "offset": -3},
              "width": 102, "height": 136,
              "encoding": {"x": {"field": "stim", "type": "quantitative", "scale": {"domain": [0.68, 10.48], "nice": false}, "axis": {"values": [1, 4, 7, 10], "title": "Stimulus #"}}},
              "layer": [
                {"data": {"name": "gh"}, "transform": [{"filter": "datum.iv == '2 min'"}],
                 "layer": [
                   {"mark": {"type": "area", "color": "#cdcdcd"},
                    "encoding": {"y": {"field": "vm_lo", "type": "quantitative", "scale": {"domain": [-8.32, 0.16], "nice": false}, "axis": {"orient": "right", "values": [0, -4, -8], "title": "ΔVm, mV"}}, "y2": {"field": "vm_hi"}}},
                   {"mark": {"type": "line", "strokeWidth": 2.5, "color": "#000"},
                    "encoding": {"y": {"field": "vm", "type": "quantitative"},
                                 "strokeDash": {"datum": "Vm", "type": "nominal", "scale": {"domain": ["Vm", "spikes"], "range": [[2, 2], [1, 0]]},
                                                "legend": {"orient": "top-right", "title": null, "symbolType": "stroke", "symbolStrokeWidth": 2.5, "symbolStrokeColor": "#000", "symbolSize": 250, "labelFontSize": 11, "offset": 6, "padding": 0, "rowPadding": 1}}}}
                 ]},
                {"data": {"name": "gh"}, "transform": [{"filter": "datum.iv == '2 min'"}],
                 "layer": [
                   {"mark": {"type": "area", "color": "#555555", "opacity": 0.6},
                    "encoding": {"y": {"field": "spk_lo", "type": "quantitative", "scale": {"domain": [-0.04, 1.02], "nice": false}, "axis": {"orient": "left", "values": [0, 0.5, 1], "format": ".1f", "title": "Normalized spike count"}}, "y2": {"field": "spk_hi"}}},
                   {"mark": {"type": "line", "strokeWidth": 2.5, "color": "#000"},
                    "encoding": {"y": {"field": "spk", "type": "quantitative"}, "strokeDash": {"datum": "spikes", "type": "nominal"}}},
                   {"data": {"name": "ghtext"}, "transform": [{"filter": "datum.iv == '2 min'"}],
                    "mark": {"type": "text", "fontSize": 12, "lineBreak": "\n", "color": "#000"},
                    "encoding": {"y": {"field": "y", "type": "quantitative"}, "text": {"field": "lab"}}}
                 ]}
              ],
              "resolve": {"scale": {"y": "independent"}}
            },
            {
              "title": {"text": "H", "dx": -10, "offset": -3},
              "width": 96, "height": 133,
              "encoding": {"x": {"field": "stim", "type": "quantitative", "scale": {"domain": [0.6, 10.2], "nice": false}, "axis": {"values": [1, 4, 7, 10], "title": "Stimulus #"}}},
              "layer": [
                {"data": {"name": "gh"}, "transform": [{"filter": "datum.iv == '3 min'"}],
                 "layer": [
                   {"mark": {"type": "area", "color": "#cdcdcd"},
                    "encoding": {"y": {"field": "vm_lo", "type": "quantitative", "scale": {"domain": [-8.16, 0.16], "nice": false}, "axis": {"orient": "right", "values": [0, -4, -8], "title": "ΔVm, mV"}}, "y2": {"field": "vm_hi"}}},
                   {"mark": {"type": "line", "strokeWidth": 2.5, "color": "#000", "strokeDash": [2, 2]},
                    "encoding": {"y": {"field": "vm", "type": "quantitative"}}}
                 ]},
                {"data": {"name": "gh"}, "transform": [{"filter": "datum.iv == '3 min'"}],
                 "layer": [
                   {"mark": {"type": "area", "color": "#555555", "opacity": 0.6},
                    "encoding": {"y": {"field": "spk_lo", "type": "quantitative", "scale": {"domain": [-0.02, 1.02], "nice": false}, "axis": {"orient": "left", "values": [0, 0.5, 1], "format": ".1f", "title": "Normalized spike count"}}, "y2": {"field": "spk_hi"}}},
                   {"mark": {"type": "line", "strokeWidth": 2.5, "color": "#000"},
                    "encoding": {"y": {"field": "spk", "type": "quantitative"}}},
                   {"data": {"name": "ghtext"}, "transform": [{"filter": "datum.iv == '3 min'"}],
                    "mark": {"type": "text", "fontSize": 12, "lineBreak": "\n", "color": "#000"},
                    "encoding": {"y": {"field": "y", "type": "quantitative"}, "text": {"field": "lab"}}}
                 ]}
              ],
              "resolve": {"scale": {"y": "independent"}}
            }
          ]
        }
      ]
    }
  ]
}
